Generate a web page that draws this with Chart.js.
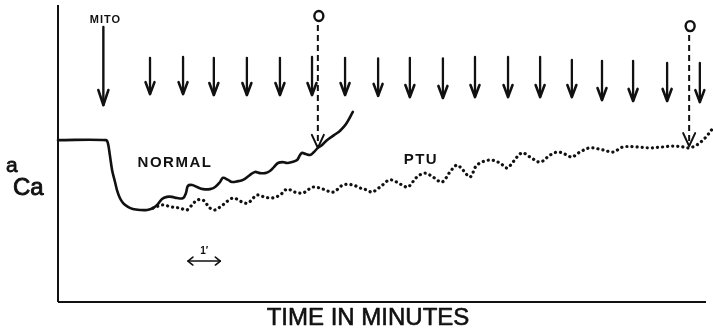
<!DOCTYPE html>
<html>
<head>
<meta charset="utf-8">
<script src="https://cdn.jsdelivr.net/npm/chart.js@4/dist/chart.umd.min.js"></script>
<style>
  html, body { margin: 0; padding: 0; background: #fff; }
  #wrap { width: 713px; height: 330px; }
</style>
</head>
<body>
<div id="wrap"><canvas id="c" width="713" height="330"></canvas></div>
<script>
// ---- data (x in minutes, y = relative Ca activity, arbitrary units) ----
const normalX = [0,1.48,1.54,1.60,1.67,1.76,1.82,1.91,2.01,2.16,2.31,2.53,2.75,2.93,3.06,3.21,3.36,3.52,3.67,3.86,3.95,4.01,4.14,4.29,4.48,4.69,4.85,5.00,5.09,5.25,5.37,5.56,5.71,5.93,6.08,6.23,6.39,6.54,6.67,6.79,6.94,7.07,7.22,7.38,7.47,7.53,7.65,7.78,7.90,8.02,8.15,8.30,8.52,8.70,8.89,9.10];
const normalY = [54.5,54.5,53.5,49.5,44.4,40.4,37.7,35.0,33.3,32.0,31.3,31.0,31.0,31.6,32.7,34.7,35.4,35.4,35.0,35.0,36.7,39.1,39.4,38.7,38.0,38.0,38.7,40.4,41.8,41.1,40.4,40.7,41.1,42.8,43.8,43.4,43.4,44.1,45.5,46.8,47.1,46.8,47.1,47.8,49.5,50.2,49.8,49.5,50.5,51.9,52.9,54.5,56.2,57.6,59.9,64.0];

const ptuX = [2.93,3.09,3.24,3.40,3.52,3.77,3.98,4.14,4.29,4.48,4.69,4.85,5.09,5.40,5.68,5.86,6.14,6.36,6.60,6.85,7.07,7.31,7.56,7.87,8.18,8.49,8.80,9.10,9.32,9.54,9.69,9.94,10.25,10.62,10.80,11.08,11.33,11.57,11.85,12.10,12.31,12.50,12.72,12.93,13.33,13.64,13.86,14.04,14.32,14.57,14.88,15.19,15.43,15.71,15.86,16.11,16.42,16.82,17.13,17.44,17.87,18.27,18.67,18.98,19.29,19.48,19.72,19.97,20.22];
const ptuY = [31.6,32.3,32.7,32.3,32.0,31.6,31.0,32.7,34.3,34.3,31.6,31.0,32.7,35.0,33.7,33.3,36.0,35.4,35.0,36.0,38.0,37.0,36.7,38.7,38.0,37.0,39.4,39.4,38.4,37.7,37.0,38.7,41.1,39.4,38.7,42.1,43.4,42.1,40.4,43.8,46.1,44.4,42.1,46.1,47.8,46.8,45.1,47.1,50.2,48.8,47.1,49.5,50.5,49.5,48.8,50.5,51.9,51.2,50.5,52.2,52.2,51.9,52.2,52.5,52.2,51.9,52.9,55.2,58.6];

// additions (arrows) in minutes
const mitoTime = 1.40;
const additionTimes = [2.84,3.86,4.81,5.83,6.85,7.84,8.86,9.88,10.86,11.88,12.87,13.89,14.88,15.86,16.79,17.75,18.80,19.81];
const additionTopY = [82.2,82.5,82.2,82.2,82.2,82.5,82.2,82.0,82.2,82.0,82.5,82.5,82.5,81.5,81.2,81.2,80.5,80.5];
const additionTipY = [70.0,70.0,69.7,69.7,69.7,69.7,69.7,69.4,69.0,68.7,69.0,69.0,69.0,69.0,68.0,67.7,67.7,67.3];
const oTimes = [8.02, 19.48];
const oLevelY = [96.3, 92.9];
const oTipY = [51.9, 52.5];
const scaleBarStart = 4.01; // 1 minute scale bar
const scaleBarLen = 1;

const xAxisMax = 20;
const yAxisMax = 100;

const normalData = normalX.map((x, i) => ({x, y: normalY[i]}));
const ptuData = ptuX.map((x, i) => ({x, y: ptuY[i]}));

function arrowHead(ctx, x, y, w, h) {
  ctx.beginPath();
  ctx.moveTo(x - w, y - h);
  ctx.lineTo(x, y);
  ctx.lineTo(x + w, y - h);
  ctx.stroke();
}

function boldText(ctx, s, x, y, sw) {
  ctx.fillText(s, x, y);
  ctx.lineWidth = sw;
  ctx.strokeText(s, x, y);
}

const annot = {
  id: 'annot',
  afterDatasetsDraw(chart) {
    const {ctx, scales} = chart;
    const X = v => scales.x.getPixelForValue(v);
    const Y = v => scales.y.getPixelForValue(v);
    ctx.save();
    ctx.strokeStyle = '#111';
    ctx.fillStyle = '#111';
    ctx.lineCap = 'round';
    ctx.lineJoin = 'round';

    // MITO arrow
    ctx.lineWidth = 2.4;
    const mx = X(mitoTime);
    ctx.beginPath(); ctx.moveTo(mx, Y(92.6)); ctx.lineTo(mx, Y(66.3)); ctx.stroke();
    ctx.lineWidth = 2.6;
    arrowHead(ctx, mx, Y(66.3), 5, 15);

    // addition arrows
    additionTimes.forEach((t, i) => {
      const ax = X(t);
      ctx.lineWidth = 2.3;
      ctx.beginPath(); ctx.moveTo(ax, Y(additionTopY[i])); ctx.lineTo(ax, Y(additionTipY[i])); ctx.stroke();
      ctx.lineWidth = 2.6;
      arrowHead(ctx, ax, Y(additionTipY[i]), 4.5, 12);
    });

    // O markers with dashed arrows
    oTimes.forEach((t, i) => {
      const ox = X(t);
      const oy = Y(oLevelY[i]);
      ctx.lineWidth = 2.4;
      ctx.setLineDash([]);
      ctx.beginPath(); ctx.ellipse(ox + 1, oy, 4.5, 5, 0, 0, Math.PI * 2); ctx.stroke();
      ctx.setLineDash([6, 4]);
      ctx.lineCap = 'butt';
      ctx.lineWidth = 2;
      ctx.beginPath(); ctx.moveTo(ox, oy + 9); ctx.lineTo(ox, Y(oTipY[i]) - 2); ctx.stroke();
      ctx.setLineDash([]);
      ctx.lineCap = 'round';
      ctx.lineWidth = 2;
      arrowHead(ctx, ox, Y(oTipY[i]), 6, 13);
    });

    // scale bar (1 minute)
    const sx0 = X(scaleBarStart), sx1 = X(scaleBarStart + scaleBarLen), sy = Y(13.8);
    ctx.lineWidth = 1.6;
    ctx.beginPath(); ctx.moveTo(sx0, sy); ctx.lineTo(sx1, sy); ctx.stroke();
    ctx.beginPath(); ctx.moveTo(sx0 + 5, sy - 4); ctx.lineTo(sx0, sy); ctx.lineTo(sx0 + 5, sy + 4); ctx.stroke();
    ctx.beginPath(); ctx.moveTo(sx1 - 5, sy - 4); ctx.lineTo(sx1, sy); ctx.lineTo(sx1 - 5, sy + 4); ctx.stroke();

    // texts
    ctx.textBaseline = 'alphabetic';
    ctx.textAlign = 'center';
    ctx.font = 'bold 11px "Liberation Sans", Arial, sans-serif';
    ctx.letterSpacing = '1px';
    ctx.fillText('MITO', mx + 2, 23);
    ctx.font = 'bold 10px "Liberation Sans", Arial, sans-serif';
    ctx.letterSpacing = '0px';
    ctx.fillText('1\u2032', (sx0 + sx1) / 2, sy - 7);

    ctx.font = 'bold 15px "Liberation Sans", Arial, sans-serif';
    ctx.letterSpacing = '1.5px';
    ctx.fillText('NORMAL', X(3.61), Y(45.5));
    ctx.fillText('PTU', X(11.2), Y(46.6));

    ctx.letterSpacing = '0px';
    ctx.textAlign = 'left';
    ctx.font = '21px "Liberation Sans", Arial, sans-serif';
    boldText(ctx, 'a', 6, 172, 0.8);
    ctx.font = '24px "Liberation Sans", Arial, sans-serif';
    boldText(ctx, 'Ca', 13, 195, 0.9);

    ctx.textAlign = 'center';
    ctx.font = '24px "Liberation Sans", Arial, sans-serif';
    boldText(ctx, 'TIME IN MINUTES', 368, 325, 0.6);
    ctx.restore();
  }
};

new Chart(document.getElementById('c'), {
  type: 'line',
  data: {
    datasets: [
      { label: 'x axis', data: [{x: 0, y: 0}, {x: xAxisMax, y: 0}], borderColor: '#111', borderWidth: 2, pointRadius: 0, clip: false, tension: 0 },
      { label: 'y axis', data: [{x: 0, y: 0}, {x: 0, y: yAxisMax}], borderColor: '#111', borderWidth: 2, pointRadius: 0, clip: false, tension: 0 },
      { label: 'NORMAL', data: normalData, borderColor: '#111', borderWidth: 2.6, pointRadius: 0, tension: 0.35, clip: false, borderCapStyle: 'round', borderJoinStyle: 'round' },
      { label: 'PTU', data: ptuData, borderColor: '#111', borderWidth: 3.2, pointRadius: 0, tension: 0.35, clip: false, borderDash: [0.1, 5], borderCapStyle: 'round' }
    ]
  },
  options: {
    responsive: false,
    animation: false,
    events: [],
    layout: { padding: { left: 58, right: 7, top: 5, bottom: 28 } },
    scales: {
      x: { type: 'linear', min: 0, max: xAxisMax, display: false },
      y: { type: 'linear', min: 0, max: yAxisMax, display: false }
    },
    plugins: { legend: { display: false }, tooltip: { enabled: false } }
  },
  plugins: [annot]
});
</script>
</body>
</html>
